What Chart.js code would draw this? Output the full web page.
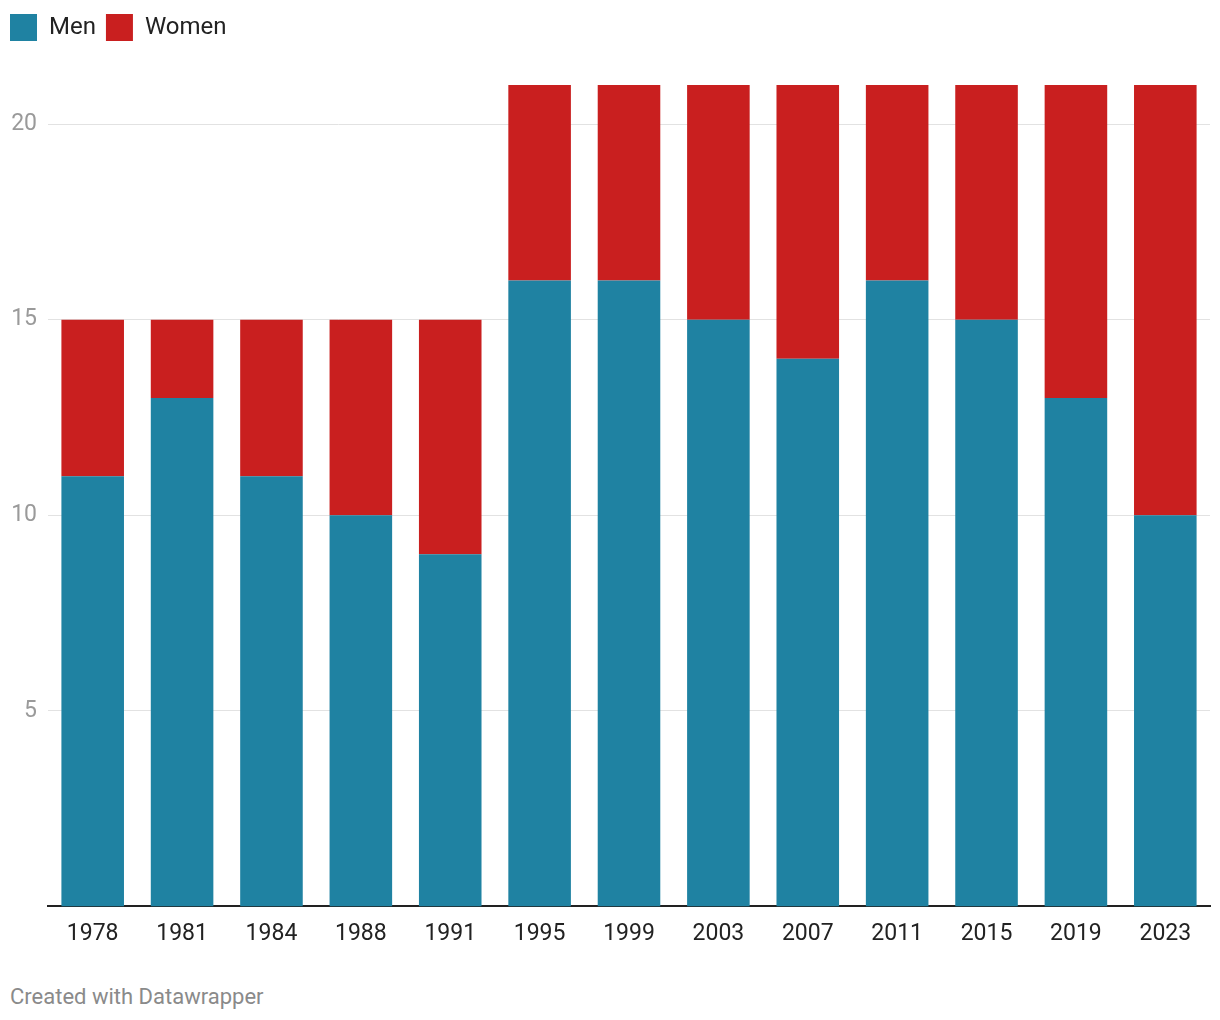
<!DOCTYPE html>
<html>
<head>
<meta charset="utf-8">
<script src="https://cdn.jsdelivr.net/npm/chart.js@4/dist/chart.umd.min.js"></script>
<style>
  body { margin: 0; background: #fff; font-family: Roboto, sans-serif; }
  #wrap { position: relative; width: 1220px; height: 954px; }
  #footer { position: absolute; left: 10px; top: 984px; font-size: 22px; color: #8a8a8a; font-family: Roboto, sans-serif; }
</style>
</head>
<body>
<div id="wrap"><canvas id="chart"></canvas></div>
<div id="footer">Created with Datawrapper</div>
<script>
// データ
const years = ['1978', '1981', '1984', '1988', '1991', '1995', '1999', '2003', '2007', '2011', '2015', '2019', '2023'];
const men = [11, 13, 11, 10, 9, 16, 16, 15, 14, 16, 15, 13, 10];
const women = [4, 2, 4, 5, 6, 5, 5, 6, 7, 5, 6, 8, 11];
const yTicks = [5, 10, 15, 20];

const ctx = document.getElementById('chart').getContext('2d');

// 凡例の下に余白を追加
const legendMargin = {
    id: 'legendMargin',
    beforeInit(chart) {
        const fit = chart.legend.fit;
        chart.legend.fit = function () {
            fit.bind(chart.legend)();
            this.height += 34;
        };
    }
};

new Chart(ctx, {
    type: 'bar',
    data: {
        labels: years,
        datasets: [{
            label: 'Men',
            data: men,
            backgroundColor: '#1f82a2',
            barPercentage: 0.7,
            categoryPercentage: 1.0,
        }, {
            label: 'Women',
            data: women,
            backgroundColor: '#c91f1f',
            barPercentage: 0.7,
            categoryPercentage: 1.0,
        }]
    },
    options: {
        responsive: true,
        maintainAspectRatio: false,
        animation: false,
        layout: { padding: { left: 0, right: 10, top: 4, bottom: 0 } },
        plugins: {
            legend: {
                position: 'top',
                align: 'start',
                labels: {
                    boxWidth: 27,
                    boxHeight: 27,
                    color: '#222',
                    font: { family: 'Roboto', size: 24 },
                    padding: 10,
                },
            },
            tooltip: { enabled: false },
        },
        scales: {
            x: {
                stacked: true,
                grid: { display: false },
                border: { display: true, color: '#222', width: 2 },
                ticks: { color: '#222', font: { family: 'Roboto', size: 23 }, padding: 6, maxRotation: 0 },
            },
            y: {
                stacked: true,
                min: 0,
                max: 21,
                afterBuildTicks: axis => { axis.ticks = yTicks.map(v => ({ value: v })); },
                afterFit: axis => { axis.width = 48; },
                grid: { color: '#e2e2e2', lineWidth: 1, drawTicks: false },
                border: { display: false },
                ticks: { color: '#9a9a9a', font: { family: 'Roboto', size: 23 }, padding: 11 },
            }
        }
    },
    plugins: [legendMargin]
});
</script>
</body>
</html>
